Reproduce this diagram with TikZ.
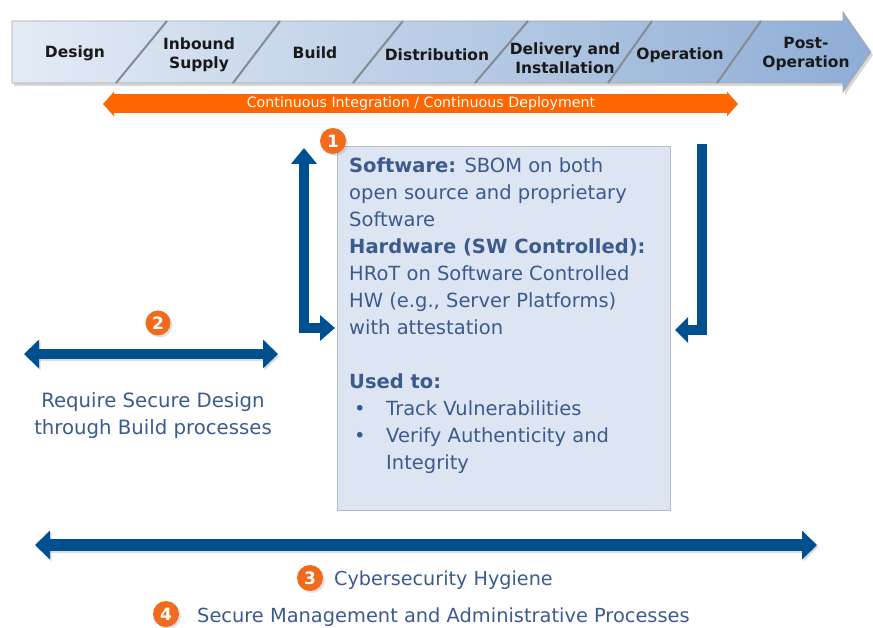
\documentclass[tikz,border=0pt]{standalone}
\usepackage{fontspec}
\setmainfont{DejaVu Sans}
\usetikzlibrary{arrows.meta}
\definecolor{txtblue}{HTML}{3B5B8E}
\definecolor{arrblue}{HTML}{00508F}
\definecolor{boxfill}{HTML}{DCE5F1}
\definecolor{boxline}{HTML}{B4BCC8}
\definecolor{ciorange}{HTML}{FF6600}
\definecolor{numorange}{HTML}{F26A1B}
\definecolor{banL}{HTML}{E4EBF5}
\definecolor{banR}{HTML}{8EADD5}
\definecolor{sepgray}{HTML}{858B92}
\tikzset{
  phase/.style={font=\fontsize{15.5}{18.5}\selectfont\bfseries, text=black!90, align=center, inner sep=0pt},
  sepline/.style={draw=sepgray, line width=2pt},
  num/.style={circle, fill=numorange, minimum size=26pt, inner sep=0pt, text=white, font=\fontsize{17}{17}\selectfont\bfseries},
  numshadow/.style={circle, fill=black!35, opacity=0.35, minimum size=26pt, inner sep=0pt},
  bluearrow/.style={draw=arrblue, line width=#1},
  shadowarrow/.style={draw=black!40, opacity=0.35, line width=#1},
  bodytext/.style={text=txtblue, font=\fontsize{19.5}{27}\selectfont, inner sep=0pt, align=left},
}
\begin{document}
\begin{tikzpicture}[x=1pt,y=-1pt]
\useasboundingbox (0,0) rectangle (873,628);
% banner shadow
\fill[black!30, opacity=0.5] (14,24) -- (845,24) -- (845,15) -- (873,55) -- (845,95) -- (845,86) -- (14,86) -- cycle;
% banner
\shade[left color=banL, right color=banR, draw=black!35, line width=0.6pt]
  (12,21) -- (843,21) -- (843,12) -- (871,52) -- (843,92) -- (843,83) -- (12,83) -- cycle;
\draw[sepline] (116,83) -- (167,21);
\draw[sepline] (233,83) -- (280,21);
\draw[sepline] (353,83) -- (403,21);
\draw[sepline] (475,83) -- (528,21);
\draw[sepline] (608,83) -- (652,21);
\draw[sepline] (717,83) -- (761,21);
\node[phase] (p1) at (75,53) {Design};
\node[phase] (p2) at (199,55) {Inbound\\Supply};
\node[phase] (p3) at (315,53) {Build};
\node[phase] (p4) at (437,55) {Distribution};
\node[phase] (p5) at (565,58) {Delivery and\\Installation};
\node[phase] (p6) at (680,55) {Operation};
\node[phase] (p7) at (806,54) {Post-\\Operation};
% CI/CD arrow
\coordinate (ciL) at (103,104);
\coordinate (ciR) at (738,104);
\draw[draw=ciorange, line width=19pt, {Triangle[width=24pt,length=11pt]}-{Triangle[width=24pt,length=11pt]}] (ciL) -- (ciR);
\node[text=white, font=\fontsize{14.2}{15}\selectfont, inner sep=0pt] (ci) at (421,104) {Continuous Integration / Continuous Deployment};
% main box
\node[draw=boxline, fill=boxfill, line width=0.8pt, minimum width=333pt, minimum height=364pt, inner sep=0pt] (box) at (503.5,328) {};
\node[bodytext, anchor=north west] (boxtext) at (349,157) {%
\textbf{Software:} SBOM on both\\
open source and proprietary\\
Software\\
\textbf{Hardware (SW Controlled):}\\
HRoT on Software Controlled\\
HW (e.g., Server Platforms)\\
with attestation\\[27pt]
\textbf{Used to:}\\
\makebox[37pt][l]{\hspace{5pt}•}Track Vulnerabilities\\
\makebox[37pt][l]{\hspace{5pt}•}Verify Authenticity and\\
\hspace{37pt}Integrity};
% number 1
\node[numshadow] at (335,143) {};
\node[num] (n1) at (333,141) {1};
% left L arrow
\coordinate (la) at (304,148);
\coordinate (lb) at (304,328);
\coordinate (lc) at (335,328);
\draw[bluearrow=10pt, {Triangle[width=25pt,length=16pt]}-{Triangle[width=25pt,length=15pt]}] (la) -- (lb) -- (lc);
% right L arrow
\coordinate (ra) at (702,144);
\coordinate (rb) at (702,330);
\coordinate (rc) at (675,330);
\draw[bluearrow=10pt, -{Triangle[width=25pt,length=13pt]}] (ra) -- (rb) -- (rc);
% arrow 2
\coordinate (a2L) at (24,354);
\coordinate (a2R) at (278,354);
\draw[shadowarrow=10pt, {Triangle[width=28pt,length=15pt]}-{Triangle[width=28pt,length=15pt]}] ([shift={(1.5,2)}]a2L) -- ([shift={(1.5,2)}]a2R);
\draw[bluearrow=10pt, {Triangle[width=28pt,length=15pt]}-{Triangle[width=28pt,length=15pt]}] (a2L) -- (a2R);
\node[numshadow, minimum size=25pt] at (160,325) {};
\node[num, minimum size=25pt] (n2) at (158,323) {2};
\node[text=txtblue, font=\fontsize{19.7}{27}\selectfont, align=center, inner sep=0pt] (t2) at (153,416) {Require Secure Design\\through Build processes};
% bottom arrow
\coordinate (a3L) at (35,545);
\coordinate (a3R) at (817,545);
\draw[shadowarrow=12pt, {Triangle[width=28pt,length=15pt]}-{Triangle[width=28pt,length=15pt]}] ([shift={(1.5,2)}]a3L) -- ([shift={(1.5,2)}]a3R);
\draw[bluearrow=12pt, {Triangle[width=28pt,length=15pt]}-{Triangle[width=28pt,length=15pt]}] (a3L) -- (a3R);
\node[numshadow] at (312,580) {};
\node[num] (n3) at (310,578) {3};
\node[text=txtblue, font=\fontsize{19.2}{20}\selectfont, anchor=west, inner sep=0pt] (t3) at (334,580) {Cybersecurity Hygiene};
\node[numshadow] at (168,616) {};
\node[num] (n4) at (166,614) {4};
\node[text=txtblue, font=\fontsize{19.4}{20}\selectfont, anchor=west, inner sep=0pt] (t4) at (197,617) {Secure Management and Administrative Processes};
\end{tikzpicture}
\end{document}
